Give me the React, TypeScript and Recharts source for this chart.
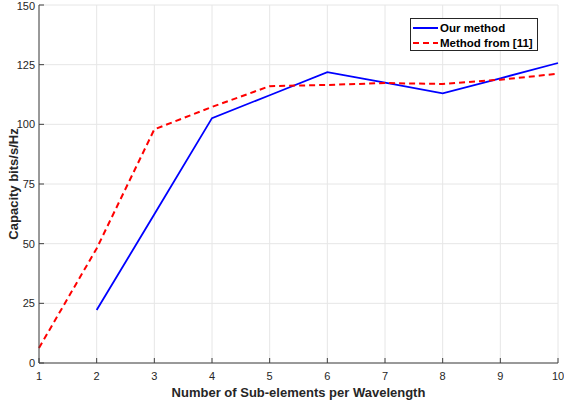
import {
  LineChart,
  Line,
  XAxis,
  YAxis,
  CartesianGrid,
  Legend,
} from "recharts";

const subElements = [1, 2, 3, 4, 5, 6, 7, 8, 9, 10];
const ourMethod = [null, 22.2, 62.3, 102.6, 112.2, 121.9, 117.5, 113, 119.3, 125.7];
const methodFrom11 = [6.3, 48, 97.9, 107.3, 116, 116.5, 117.3, 116.9, 118.7, 121.2];
const xTicks = [1, 2, 3, 4, 5, 6, 7, 8, 9, 10];
const yTicks = [0, 25, 50, 75, 100, 125, 150];

const data = subElements.map((x, i) => ({
  x,
  ours: ourMethod[i],
  ref11: methodFrom11[i],
}));

const FONT = "'Liberation Sans', Arial, Helvetica, sans-serif";
const AXIS = "#404040";
const TEXT = "#262626";
const tickStyle = { fontSize: 11, fill: TEXT, fontFamily: FONT };

function LegendBox() {
  const rows = [
    { label: "Our method", color: "#0000ff", dash: undefined },
    { label: "Method from [11]", color: "#ff0000", dash: "6 4" },
  ];
  return (
    <div
      style={{
        width: 128,
        height: 33,
        boxSizing: "border-box",
        border: "1px solid #262626",
        background: "#fff",
        fontFamily: FONT,
        fontWeight: "bold",
        fontSize: 11.5,
        color: "#000",
        paddingTop: 1,
        whiteSpace: "nowrap",
        overflow: "visible",
      }}
    >
      {rows.map((r) => (
        <div key={r.label} style={{ display: "flex", alignItems: "center", height: 15 }}>
          <svg width={27} height={6} style={{ marginLeft: 2, flexShrink: 0 }}>
            <line
              x1={0}
              y1={3}
              x2={25}
              y2={3}
              stroke={r.color}
              strokeWidth={2}
              strokeDasharray={r.dash}
            />
          </svg>
          <span>{r.label}</span>
        </div>
      ))}
    </div>
  );
}

export default function App() {
  return (
    <div style={{ position: "absolute", left: 0, top: 0, background: "#fff" }}>
      <LineChart
        width={564}
        height={400}
        data={data}
        margin={{ top: 5, right: 6, bottom: 0, left: 0 }}
      >
        <CartesianGrid stroke="#e6e6e6" strokeWidth={1} />
        <XAxis
          dataKey="x"
          type="number"
          domain={[1, 10]}
          ticks={xTicks}
          height={37}
          tickSize={-5}
          tickMargin={14}
          stroke={AXIS}
          tick={tickStyle}
          label={{
            value: "Number of Sub-elements per Wavelength",
            position: "insideBottom",
            offset: 3,
            style: { fontSize: 13, fontWeight: "bold", fill: TEXT, fontFamily: FONT },
          }}
        />
        <XAxis
          xAxisId="top"
          dataKey="x"
          type="number"
          orientation="top"
          domain={[1, 10]}
          ticks={xTicks}
          height={0}
          tickSize={-5}
          tick={false}
          stroke={AXIS}
        />
        <YAxis
          domain={[0, 150]}
          ticks={yTicks}
          width={39}
          tickSize={-5}
          tickMargin={9}
          stroke={AXIS}
          tick={tickStyle}
          label={{
            value: "Capacity bits/s/Hz",
            angle: -90,
            position: "insideLeft",
            offset: 13,
            style: {
              fontSize: 13,
              fontWeight: "bold",
              fill: TEXT,
              fontFamily: FONT,
              textAnchor: "middle",
            },
          }}
        />
        <YAxis
          yAxisId="right"
          orientation="right"
          domain={[0, 150]}
          ticks={yTicks}
          width={0}
          tickSize={-5}
          tick={false}
          stroke={AXIS}
        />
        <Legend
          layout="vertical"
          verticalAlign="middle"
          align="center"
          content={() => <LegendBox />}
          wrapperStyle={{ left: 410, top: 18, width: 128, height: 33 }}
        />
        <Line
          dataKey="ours"
          stroke="#0000ff"
          strokeWidth={1.8}
          dot={false}
          isAnimationActive={false}
          connectNulls={false}
        />
        <Line
          dataKey="ref11"
          stroke="#ff0000"
          strokeWidth={2}
          strokeDasharray="6 4"
          dot={false}
          isAnimationActive={false}
        />
      </LineChart>
    </div>
  );
}
